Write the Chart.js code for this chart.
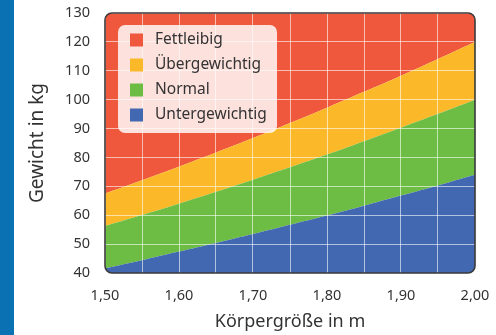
<!DOCTYPE html>
<html>
<head>
<meta charset="utf-8">
<script src="https://cdn.jsdelivr.net/npm/chart.js@4/dist/chart.umd.min.js"></script>
<style>
  html, body { margin: 0; padding: 0; background: #fff; }
  #wrap { position: relative; width: 496px; height: 335px; }
  #strip { position: absolute; left: 0; top: 0; width: 14px; height: 335px; background: #0a72b3; }
  canvas { position: absolute; left: 0; top: 0; }
</style>
</head>
<body>
<div id="wrap">
  <div id="strip"></div>
  <canvas id="c" width="496" height="335"></canvas>
</div>
<script>
// Body height in metres
const heights = [1.50, 1.55, 1.60, 1.65, 1.70, 1.75, 1.80, 1.85, 1.90, 1.95, 2.00];
// Upper weight limit (kg) of each band at those heights
const untergewichtigTop = [41.6, 44.4, 47.4, 50.4, 53.5, 56.7, 59.9, 63.3, 66.8, 70.3, 74.0];
const normalTop         = [56.3, 60.1, 64.0, 68.1, 72.3, 76.6, 81.0, 85.6, 90.3, 95.1, 100.0];
const uebergewichtTop   = [67.5, 72.1, 76.8, 81.7, 86.7, 91.9, 97.2, 102.7, 108.3, 114.1, 120.0];
const fettleibigTop     = [130, 130, 130, 130, 130, 130, 130, 130, 130, 130, 130];

const bandNames  = ['Untergewichtig', 'Normal', 'Übergewichtig', 'Fettleibig'];
const bandColors = ['#4268b1', '#6dbd45', '#fbb92a', '#ef583d'];

const FONT = '"Noto Sans", "DejaVu Sans", sans-serif';
const TEXT = '#333333';

function points(values) {
  return heights.map((h, i) => ({ x: h, y: values[i] }));
}

function roundRect(ctx, x, y, w, h, r) {
  ctx.beginPath();
  ctx.moveTo(x + r, y);
  ctx.lineTo(x + w - r, y);
  ctx.arcTo(x + w, y, x + w, y + r, r);
  ctx.lineTo(x + w, y + h - r);
  ctx.arcTo(x + w, y + h, x + w - r, y + h, r);
  ctx.lineTo(x + r, y + h);
  ctx.arcTo(x, y + h, x, y + h - r, r);
  ctx.lineTo(x, y + r);
  ctx.arcTo(x, y, x + r, y, r);
  ctx.closePath();
}

// Rounded frame around the plot area plus the boxed legend inside it
const framePlugin = {
  id: 'frame',
  beforeDatasetsDraw(chart) {
    const a = chart.chartArea, ctx = chart.ctx;
    ctx.save();
    roundRect(ctx, a.left, a.top, a.right - a.left, a.bottom - a.top, 7);
    ctx.clip();
  },
  afterDatasetsDraw(chart) {
    chart.ctx.restore();
  },
  afterDraw(chart) {
    const a = chart.chartArea, ctx = chart.ctx;
    ctx.save();
    ctx.lineWidth = 1.6;
    ctx.strokeStyle = '#3a3a3a';
    roundRect(ctx, a.left, a.top, a.right - a.left, a.bottom - a.top, 7);
    ctx.stroke();

    // legend box
    const bx = a.left + 13, by = a.top + 12, bw = 159, bh = 108;
    ctx.fillStyle = 'rgba(255,255,255,0.82)';
    roundRect(ctx, bx, by, bw, bh, 7);
    ctx.fill();

    ctx.font = '15.5px ' + FONT;
    ctx.textBaseline = 'middle';
    ctx.textAlign = 'left';
    const order = chart.data.datasets.slice().reverse();
    order.forEach((ds, i) => {
      const cy = by + 15 + i * 25;
      ctx.fillStyle = ds.backgroundColor;
      ctx.fillRect(bx + 12, cy - 6.5, 13, 13);
      ctx.fillStyle = TEXT;
      ctx.fillText(ds.label, bx + 37, cy);
    });
    ctx.restore();
  }
};

const datasets = [untergewichtigTop, normalTop, uebergewichtTop, fettleibigTop].map((vals, i) => ({
  label: bandNames[i],
  data: points(vals),
  backgroundColor: bandColors[i],
  borderWidth: 0,
  pointRadius: 0,
  tension: 0.3,
  fill: i === 0 ? 'start' : '-1'
}));

new Chart(document.getElementById('c'), {
  type: 'line',
  data: { datasets },
  plugins: [framePlugin],
  options: {
    responsive: false,
    animation: false,
    events: [],
    layout: { padding: { left: 0, right: 21, top: 13, bottom: 0 } },
    plugins: { legend: { display: false }, tooltip: { enabled: false } },
    scales: {
      x: {
        type: 'linear',
        min: 1.5,
        max: 2.0,
        z: 1,
        border: { display: false },
        grid: { color: 'rgba(255,255,255,0.6)', lineWidth: 1, drawTicks: false, z: 1 },
        ticks: {
          stepSize: 0.05,
          padding: 14,
          maxRotation: 0,
          autoSkip: false,
          color: TEXT,
          font: { family: FONT, size: 14.5 },
          callback: (v) => Math.round(v * 100) % 10 === 0 ? v.toFixed(2).replace('.', ',') : ''
        },
        title: {
          display: true,
          text: 'Körpergröße in m',
          color: TEXT,
          font: { family: FONT, size: 18 },
          padding: { top: 0, bottom: 2 }
        },
        afterFit(scale) {
          scale.height = 62;
          scale.paddingLeft = 0;
          scale.paddingRight = 0;
        }
      },
      y: {
        min: 40,
        max: 130,
        z: 1,
        border: { display: false },
        grid: { color: 'rgba(255,255,255,0.6)', lineWidth: 1, drawTicks: false, z: 1 },
        ticks: {
          stepSize: 10,
          padding: 15,
          color: TEXT,
          font: { family: FONT, size: 14.5 }
        },
        title: {
          display: true,
          text: 'Gewicht in kg',
          color: TEXT,
          font: { family: FONT, size: 19 },
          padding: { top: 26, bottom: 0 }
        },
        afterFit(scale) {
          scale.width = 105;
          scale.paddingTop = 0;
          scale.paddingBottom = 0;
        }
      }
    }
  }
});
</script>
</body>
</html>
